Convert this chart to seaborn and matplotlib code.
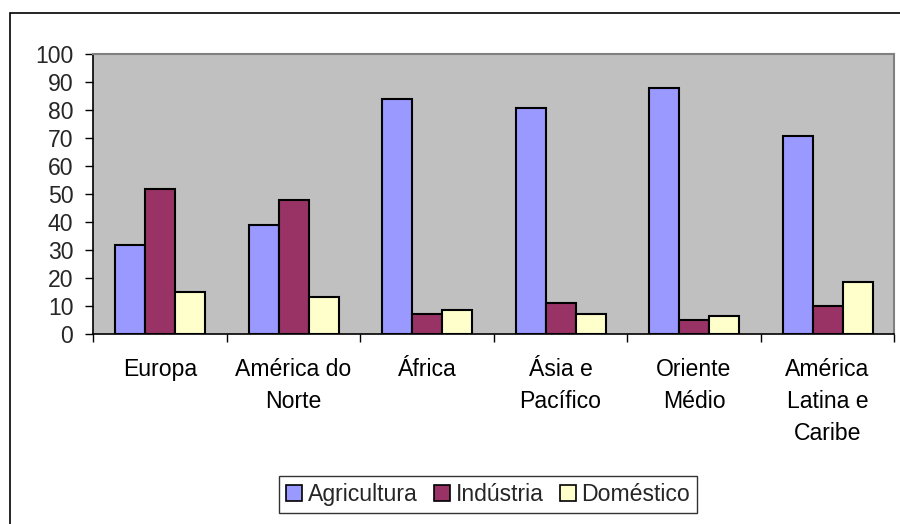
import matplotlib
matplotlib.use("Agg")
import matplotlib.pyplot as plt
import seaborn as sns
import pandas as pd
from matplotlib.patches import Rectangle, Patch

regioes = ["Europa", "América do\nNorte", "África", "Ásia e\nPacífico", "Oriente\nMédio", "América\nLatina e\nCaribe"]
agricultura = [32, 39, 84, 81, 88, 71]
industria = [52, 48, 7.4, 11.3, 5.1, 10]
domestico = [15.2, 13.4, 8.7, 7.3, 6.6, 18.8]
series = ["Agricultura", "Indústria", "Doméstico"]
cores = ["#9999FF", "#993366", "#FFFFCC"]
yticks = list(range(0, 101, 10))

rows = []
for i, r in enumerate(regioes):
    for s, vals in zip(series, [agricultura, industria, domestico]):
        rows.append({"regiao": r, "uso": s, "valor": vals[i]})
df = pd.DataFrame(rows)

sns.set_style("white")
plt.rcParams["font.family"] = ["Liberation Sans", "DejaVu Sans"]
FS = 16.6

fig = plt.figure(figsize=(9, 5.24), dpi=100)
ax = fig.add_axes([93.3/900, 1-334.3/524, (894.3-93.3)/900, (334.3-54.3)/524])
sns.barplot(data=df, x="regiao", y="valor", hue="uso", order=regioes, hue_order=series,
            palette=cores, edgecolor="black", linewidth=1.5, width=0.674, gap=0,
            saturation=1, ax=ax, legend=False)
ax.set_facecolor("#C0C0C0")
ax.set_xlim(-0.5, 5.5)
ax.set_ylim(0, 100)
ax.set_yticks(yticks)
ax.set_xlabel("")
ax.set_ylabel("")
ax.tick_params(axis="y", direction="out", length=5.8, width=1, color="black", labelsize=FS, pad=8.6, left=True)
ax.tick_params(axis="x", which="major", length=0, labelsize=FS, pad=17, colors="black")
ax.set_xticks([i - 0.5 for i in range(7)], minor=True)
ax.tick_params(axis="x", which="minor", direction="out", length=5.5, width=1, color="black", bottom=True)
for lab in ax.get_xticklabels():
    lab.set_linespacing(1.5)
    lab.set_verticalalignment("top")
for side in ["top", "right"]:
    ax.spines[side].set_color("#808080")
    ax.spines[side].set_linewidth(1.5)
for side in ["left", "bottom"]:
    ax.spines[side].set_color("black")
    ax.spines[side].set_linewidth(1.2)

fig.patches.append(Rectangle((10/900, -0.1), 1.2, (1-13/524)+0.1, transform=fig.transFigure,
                             fill=False, edgecolor="black", linewidth=1.2))

handles = [Patch(facecolor=c, edgecolor="black", linewidth=1.2) for c in cores]
leg = fig.legend(handles, series, loc="center", bbox_to_anchor=(488/900, 1-494.5/524),
                 ncol=3, frameon=True, fontsize=FS, handlelength=0.7, handleheight=0.7,
                 handletextpad=0.25, columnspacing=0.7, borderpad=0.3, borderaxespad=0,
                 fancybox=False)
leg.get_frame().set_edgecolor("black")
leg.get_frame().set_linewidth(1.0)

fig.savefig("out.png", dpi=100, facecolor="white")
